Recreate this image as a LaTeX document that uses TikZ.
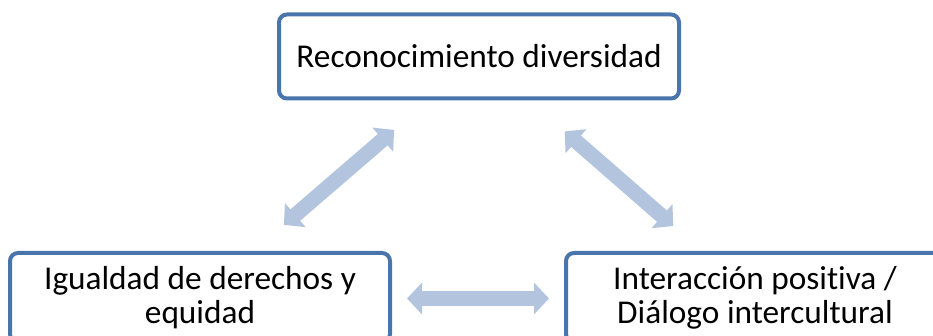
\documentclass[tikz,border=0pt]{standalone}
\usepackage{fontspec}
\setmainfont{Carlito}[Ligatures=NoCommon]
\usetikzlibrary{arrows.meta}
\definecolor{boxblue}{RGB}{74,117,172}
\definecolor{arrowblue}{RGB}{179,196,222}
\begin{document}
\begin{tikzpicture}[x=1pt,y=-1pt,
  box/.style={draw=boxblue,line width=4pt,rounded corners=8pt,fill=white,align=center,inner sep=0pt,font=\fontsize{33.3}{34}\selectfont},
  link/.style={arrowblue,line width=15pt,{Triangle[width=31pt,length=15pt]}-{Triangle[width=31pt,length=15pt]}}]
\useasboundingbox (0,0) rectangle (933,336);
\clip (0,0) rectangle (933,336);
\node[box,minimum width=400pt,minimum height=84pt] (rec) at (479,56.5) {Reconocimiento diversidad};
\node[box,minimum width=380pt,minimum height=89pt] (igu) at (200,297.5) {Igualdad de derechos y\\equidad};
\node[box,minimum width=378pt,minimum height=89pt] (int) at (755,297.5) {Interacción positiva /\\Diálogo intercultural};
\draw[link,shorten <=45pt,shorten >=40pt] (rec) -- (igu);
\draw[link,shorten <=47pt,shorten >=38pt] (rec) -- (int);
\draw[link,shorten <=15pt,shorten >=15pt] ([yshift=-1pt]igu.east) -- ([yshift=-1pt]int.west);
\end{tikzpicture}
\end{document}
